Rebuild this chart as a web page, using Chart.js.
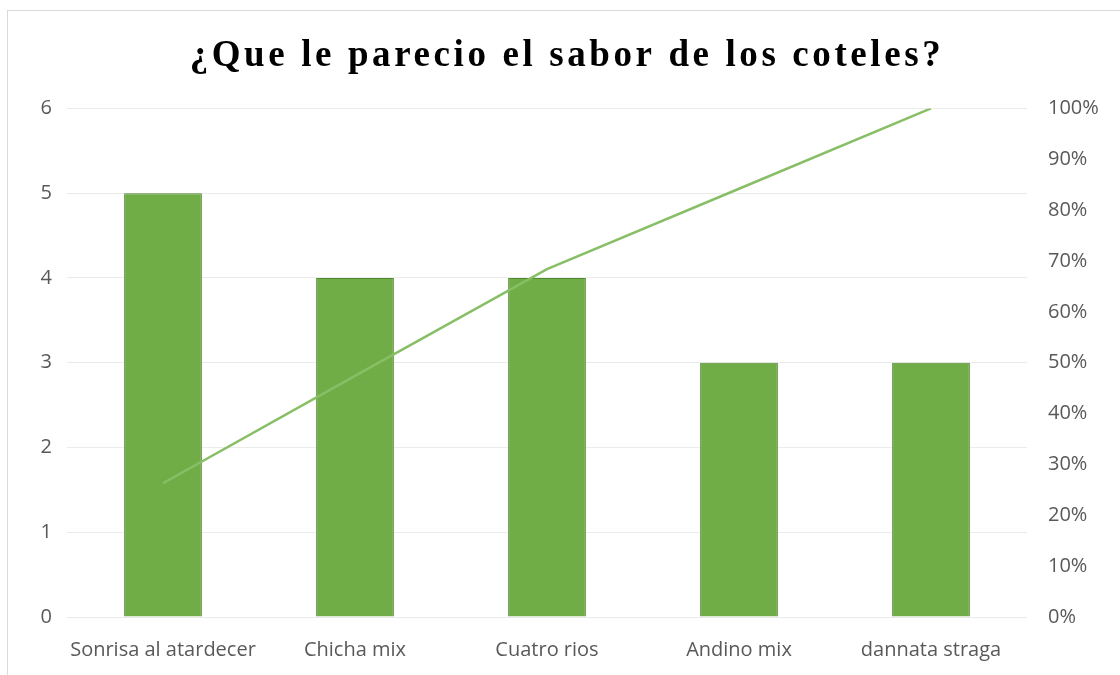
<!DOCTYPE html>
<html>
<head>
<meta charset="utf-8">
<script src="https://cdn.jsdelivr.net/npm/chart.js@4"></script>
<style>
  html, body { margin: 0; padding: 0; background: #fff; overflow: hidden; }
  #wrap { position: absolute; left: 0; top: 0; width: 1120px; height: 675px; }
  #frame { position: absolute; left: 7px; top: 10px; width: 1200px; height: 700px;
           border: 1px solid #d9d9d9; pointer-events: none; }
</style>
</head>
<body>
<div id="wrap"><canvas id="chart" width="1120" height="675"></canvas></div>
<div id="frame"></div>
<script>
'use strict';

// ── data ──
const categories = ['Sonrisa al atardecer', 'Chicha mix', 'Cuatro rios', 'Andino mix', 'dannata straga'];
const counts = [5, 4, 4, 3, 3];
const cumulativePct = [26.3, 47.4, 68.4, 84.2, 100];

const titleText = '¿Que le parecio el sabor de los coteles?';
const titleFont = { family: "'Liberation Serif', 'DejaVu Serif', serif", size: 37, weight: 'bold' };
const tickFont = { family: "'Open Sans', 'Noto Sans', sans-serif", size: 20 };
const tickColor = '#595959';

// Chart.js title has no letter spacing, so it only reserves the room and we paint the text here
const spacedTitle = {
  id: 'spacedTitle',
  afterDraw(chart) {
    const t = chart.titleBlock;
    const ctx = chart.ctx;
    ctx.save();
    ctx.font = `${titleFont.weight} ${titleFont.size}px ${titleFont.family}`;
    ctx.letterSpacing = '3.6px';
    ctx.fillStyle = '#000';
    ctx.textAlign = 'center';
    ctx.textBaseline = 'middle';
    ctx.fillText(titleText, 567, t.top + 34 + titleFont.size * 0.6);
    ctx.restore();
  }
};

new Chart(document.getElementById('chart'), {
  type: 'bar',
  data: {
    labels: categories,
    datasets: [
      {
        type: 'line',
        label: 'Acumulado',
        data: cumulativePct,
        yAxisID: 'y2',
        borderColor: '#88bf66',
        backgroundColor: '#88bf66',
        borderWidth: 2.5,
        pointRadius: 0,
        tension: 0,
        order: 0,
      },
      {
        label: 'Votos',
        data: counts,
        yAxisID: 'y',
        backgroundColor: '#70ad47',
        borderColor: '#528a30',
        borderWidth: 1,
        barPercentage: 1,
        categoryPercentage: 0.405,
        order: 1,
      }
    ]
  },
  options: {
    responsive: false,
    animation: false,
    layout: { padding: { left: 8, right: 0, top: 0, bottom: 0 } },
    plugins: {
      legend: { display: false },
      tooltip: { enabled: false },
      title: {
        display: true,
        text: titleText,
        color: 'rgba(0,0,0,0)',
        font: titleFont,
        padding: { top: 34, bottom: 30 }
      }
    },
    scales: {
      x: {
        grid: { display: false },
        border: { display: false },
        ticks: { color: tickColor, font: tickFont, padding: 13, maxRotation: 0 },
        afterFit: (s) => { s.height = 58; }
      },
      y: {
        position: 'left',
        min: 0, max: 6,
        grid: { color: '#ebebeb', drawTicks: false },
        border: { display: false },
        ticks: { stepSize: 1, color: tickColor, font: tickFont, padding: 15 },
        afterFit: (s) => { s.width = 59; }
      },
      y2: {
        position: 'right',
        min: 0, max: 100,
        grid: { display: false },
        border: { display: false },
        ticks: { stepSize: 10, color: tickColor, font: tickFont, padding: 13, callback: v => v + '%' },
        afterFit: (s) => { s.width = 93; }
      }
    }
  },
  plugins: [spacedTitle]
});
</script>
</body>
</html>
